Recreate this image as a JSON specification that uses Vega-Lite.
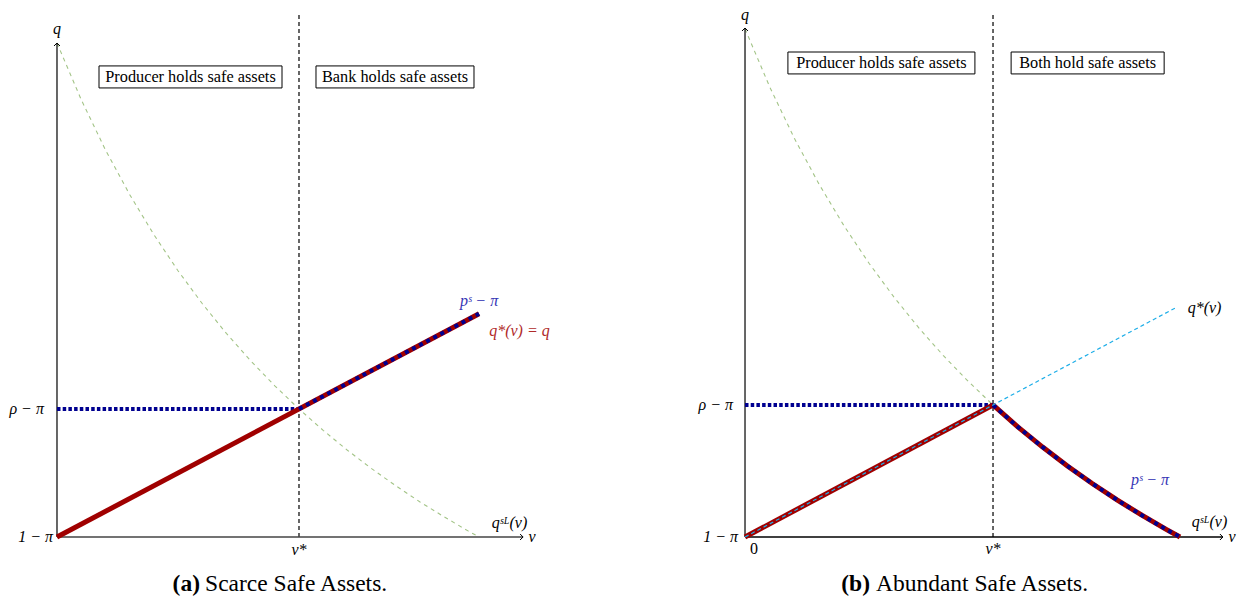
{
  "$schema": "https://vega.github.io/schema/vega-lite/v6.json",
  "background": "white",
  "padding": 0,
  "spacing": 0,
  "config": {"view": {"stroke": null}},
  "datasets": {
    "a_curve": [
      {"x": 0, "y": 3.859}, {"x": 0.1, "y": 3.417}, {"x": 0.2, "y": 3.025}, {"x": 0.3, "y": 2.676},
      {"x": 0.4, "y": 2.363}, {"x": 0.5, "y": 2.08}, {"x": 0.6, "y": 1.824}, {"x": 0.7, "y": 1.59},
      {"x": 0.8, "y": 1.377}, {"x": 0.9, "y": 1.181}, {"x": 1.0, "y": 1.0}, {"x": 1.1, "y": 0.833},
      {"x": 1.2, "y": 0.678}, {"x": 1.3, "y": 0.534}, {"x": 1.4, "y": 0.4}, {"x": 1.5, "y": 0.274},
      {"x": 1.6, "y": 0.157}, {"x": 1.7, "y": 0.046}, {"x": 1.744, "y": 0}
    ],
    "b_curve": [
      {"x": 0, "y": 3.85}, {"x": 0.1, "y": 3.408}, {"x": 0.2, "y": 3.016}, {"x": 0.3, "y": 2.668},
      {"x": 0.4, "y": 2.355}, {"x": 0.5, "y": 2.074}, {"x": 0.6, "y": 1.819}, {"x": 0.7, "y": 1.586},
      {"x": 0.8, "y": 1.374}, {"x": 0.9, "y": 1.179}, {"x": 1.0, "y": 1.0}, {"x": 1.1, "y": 0.834},
      {"x": 1.2, "y": 0.681}, {"x": 1.3, "y": 0.538}, {"x": 1.4, "y": 0.405}, {"x": 1.5, "y": 0.281},
      {"x": 1.6, "y": 0.165}, {"x": 1.7, "y": 0.056}, {"x": 1.754, "y": 0}
    ]
  },
  "hconcat": [
    {
      "width": 622,
      "height": 601,
      "encoding": {
        "x": {"field": "x", "type": "quantitative", "scale": {"domain": [-0.2355, 2.3347], "nice": false, "zero": false}, "axis": null},
        "y": {"field": "y", "type": "quantitative", "scale": {"domain": [-0.5, 4.195], "nice": false, "zero": false}, "axis": null}
      },
      "layer": [
        {"data": {"name": "a_curve"}, "mark": {"type": "line", "color": "#a3c487", "strokeWidth": 1.1, "strokeDash": [4, 4]}, "encoding": {"order": {"field": "x", "type": "quantitative"}}},
        {"data": {"values": [{"x": 1, "y": 0, "x2": 1, "y2": 4.086}]}, "mark": {"type": "rule", "color": "black", "strokeWidth": 1.2, "strokeDash": [4, 3]}, "encoding": {"x2": {"field": "x2"}, "y2": {"field": "y2"}}},
        {"data": {"values": [{"x": 0, "y": 0, "x2": 0, "y2": 3.859}]}, "mark": {"type": "rule", "color": "black", "strokeWidth": 1.2}, "encoding": {"x2": {"field": "x2"}, "y2": {"field": "y2"}}},
        {"data": {"values": [{"x": 0, "y": 0, "x2": 1.926, "y2": 0}]}, "mark": {"type": "rule", "color": "#444", "strokeWidth": 1.6}, "encoding": {"x2": {"field": "x2"}, "y2": {"field": "y2"}}},
        {"data": {"values": [{"x": 0, "y": 1, "x2": 1, "y2": 1}]}, "mark": {"type": "rule", "color": "#000090", "strokeWidth": 4, "strokeDash": [3.5, 2.2]}, "encoding": {"x2": {"field": "x2"}, "y2": {"field": "y2"}}},
        {"data": {"values": [{"x": 0, "y": 0, "x2": 1.744, "y2": 1.744}]}, "mark": {"type": "rule", "color": "#a00000", "strokeWidth": 5}, "encoding": {"x2": {"field": "x2"}, "y2": {"field": "y2"}}},
        {"data": {"values": [{"x": 1, "y": 1, "x2": 1.744, "y2": 1.744}]}, "mark": {"type": "rule", "color": "#000090", "strokeWidth": 4, "strokeDash": [4, 4]}, "encoding": {"x2": {"field": "x2"}, "y2": {"field": "y2"}}},
        {"data": {"values": [{"x": 0, "y": 3.859}]}, "mark": {"type": "point", "shape": "M-1,1L0,0L1,1", "filled": false, "stroke": "black", "strokeWidth": 1, "size": 36, "opacity": 1}},
        {"data": {"values": [{"x": 1.926, "y": 0}]}, "mark": {"type": "point", "shape": "M-1,-1L0,0L-1,1", "filled": false, "stroke": "black", "strokeWidth": 1, "size": 36, "opacity": 1}},
        {"data": {"values": [{"x": 0.1736, "x2": 0.9298, "y": 3.68, "y2": 3.508}, {"x": 1.0702, "x2": 1.7231, "y": 3.68, "y2": 3.508}]}, "mark": {"type": "rect", "fill": "white", "stroke": "black", "strokeWidth": 1}, "encoding": {"x2": {"field": "x2"}, "y2": {"field": "y2"}}},
        {"data": {"values": [{"x": 0.5517, "y": 3.594, "label": "Producer holds safe assets"}, {"x": 1.3967, "y": 3.594, "label": "Bank holds safe assets"}]}, "mark": {"type": "text", "font": "Liberation Serif", "fontSize": 16.3, "color": "black"}, "encoding": {"text": {"field": "label"}}},
        {"data": {"values": [{"x": 0, "y": 3.969, "label": "q"}, {"x": 1.963, "y": 0, "label": "ν"}, {"x": 1, "y": -0.1, "label": "ν*"}, {"x": 1.87, "y": 0.109, "label": "qˢᴸ(ν)"}]}, "mark": {"type": "text", "font": "Liberation Serif", "fontStyle": "italic", "fontSize": 16, "color": "black"}, "encoding": {"text": {"field": "label"}}},
        {"data": {"values": [{"x": -0.054, "y": 1, "label": "ρ − π"}, {"x": -0.0165, "y": 0, "label": "1 − π"}]}, "mark": {"type": "text", "align": "right", "font": "Liberation Serif", "fontStyle": "italic", "fontSize": 16, "color": "black"}, "encoding": {"text": {"field": "label"}}},
        {"data": {"values": [{"x": 1.744, "y": 1.844, "label": "pˢ − π"}]}, "mark": {"type": "text", "font": "Liberation Serif", "fontStyle": "italic", "fontSize": 16, "color": "#3535b5"}, "encoding": {"text": {"field": "label"}}},
        {"data": {"values": [{"x": 1.911, "y": 1.609, "label": "q*(ν) = q"}]}, "mark": {"type": "text", "font": "Liberation Serif", "fontStyle": "italic", "fontSize": 16, "color": "#b02a2a"}, "encoding": {"text": {"field": "label"}}},
        {"data": {"values": [{"x": 0.591, "y": -0.367, "label": "(a)"}]}, "mark": {"type": "text", "align": "right", "font": "Liberation Serif", "fontWeight": "bold", "fontSize": 23.5, "color": "black"}, "encoding": {"text": {"field": "label"}}},
        {"data": {"values": [{"x": 0.612, "y": -0.367, "label": "Scarce Safe Assets."}]}, "mark": {"type": "text", "align": "left", "font": "Liberation Serif", "fontSize": 23.5, "color": "black"}, "encoding": {"text": {"field": "label"}}}
      ]
    },
    {
      "width": 622,
      "height": 601,
      "encoding": {
        "x": {"field": "x", "type": "quantitative", "scale": {"domain": [-0.496, 2.012], "nice": false, "zero": false}, "axis": null},
        "y": {"field": "y", "type": "quantitative", "scale": {"domain": [-0.4848, 4.068], "nice": false, "zero": false}, "axis": null}
      },
      "layer": [
        {"data": {"name": "b_curve"}, "mark": {"type": "line", "color": "#a3c487", "strokeWidth": 1.1, "strokeDash": [4, 4]}, "encoding": {"order": {"field": "x", "type": "quantitative"}}},
        {"data": {"values": [{"x": 1, "y": 0, "x2": 1, "y2": 3.962}]}, "mark": {"type": "rule", "color": "black", "strokeWidth": 1.2, "strokeDash": [4, 3]}, "encoding": {"x2": {"field": "x2"}, "y2": {"field": "y2"}}},
        {"data": {"values": [{"x": 0, "y": 0, "x2": 0, "y2": 3.856}]}, "mark": {"type": "rule", "color": "black", "strokeWidth": 1.2}, "encoding": {"x2": {"field": "x2"}, "y2": {"field": "y2"}}},
        {"data": {"values": [{"x": 0, "y": 0, "x2": 1.927, "y2": 0}]}, "mark": {"type": "rule", "color": "black", "strokeWidth": 1.3}, "encoding": {"x2": {"field": "x2"}, "y2": {"field": "y2"}}},
        {"data": {"values": [{"x": 0, "y": 1, "x2": 1, "y2": 1}]}, "mark": {"type": "rule", "color": "#000090", "strokeWidth": 4, "strokeDash": [3.5, 2.2]}, "encoding": {"x2": {"field": "x2"}, "y2": {"field": "y2"}}},
        {"data": {"values": [{"x": 0, "y": 0, "x2": 1, "y2": 1}]}, "mark": {"type": "rule", "color": "#a00000", "strokeWidth": 5}, "encoding": {"x2": {"field": "x2"}, "y2": {"field": "y2"}}},
        {"data": {"name": "b_curve"}, "transform": [{"filter": "datum.x >= 1"}], "mark": {"type": "line", "color": "#a00000", "strokeWidth": 5}, "encoding": {"order": {"field": "x", "type": "quantitative"}}},
        {"data": {"name": "b_curve"}, "transform": [{"filter": "datum.x >= 1"}], "mark": {"type": "line", "color": "#000090", "strokeWidth": 4, "strokeDash": [4, 4]}, "encoding": {"order": {"field": "x", "type": "quantitative"}}},
        {"data": {"values": [{"x": 0, "y": 0, "x2": 1.742, "y2": 1.742}]}, "mark": {"type": "rule", "color": "#1eaee8", "strokeWidth": 1.2, "strokeDash": [4, 3]}, "encoding": {"x2": {"field": "x2"}, "y2": {"field": "y2"}}},
        {"data": {"values": [{"x": 0, "y": 3.856}]}, "mark": {"type": "point", "shape": "M-1,1L0,0L1,1", "filled": false, "stroke": "black", "strokeWidth": 1, "size": 36, "opacity": 1}},
        {"data": {"values": [{"x": 1.927, "y": 0}]}, "mark": {"type": "point", "shape": "M-1,-1L0,0L-1,1", "filled": false, "stroke": "black", "strokeWidth": 1, "size": 36, "opacity": 1}},
        {"data": {"values": [{"x": 0.173, "x2": 0.927, "y": 3.674, "y2": 3.508}, {"x": 1.073, "x2": 1.69, "y": 3.674, "y2": 3.508}]}, "mark": {"type": "rect", "fill": "white", "stroke": "black", "strokeWidth": 1}, "encoding": {"x2": {"field": "x2"}, "y2": {"field": "y2"}}},
        {"data": {"values": [{"x": 0.55, "y": 3.591, "label": "Producer holds safe assets"}, {"x": 1.3815, "y": 3.591, "label": "Both hold safe assets"}]}, "mark": {"type": "text", "font": "Liberation Serif", "fontSize": 16.3, "color": "black"}, "encoding": {"text": {"field": "label"}}},
        {"data": {"values": [{"x": 0, "y": 3.955, "label": "q"}, {"x": 1.964, "y": 0, "label": "ν"}, {"x": 1, "y": -0.09, "label": "ν*"}, {"x": 1.873, "y": 0.114, "label": "qˢᴸ(ν)"}, {"x": 1.853, "y": 1.735, "label": "q*(ν)"}]}, "mark": {"type": "text", "font": "Liberation Serif", "fontStyle": "italic", "fontSize": 16, "color": "black"}, "encoding": {"text": {"field": "label"}}},
        {"data": {"values": [{"x": 0.036, "y": -0.09, "label": "0"}]}, "mark": {"type": "text", "font": "Liberation Serif", "fontSize": 16, "color": "black"}, "encoding": {"text": {"field": "label"}}},
        {"data": {"values": [{"x": -0.048, "y": 1, "label": "ρ − π"}, {"x": -0.028, "y": 0, "label": "1 − π"}]}, "mark": {"type": "text", "align": "right", "font": "Liberation Serif", "fontStyle": "italic", "fontSize": 16, "color": "black"}, "encoding": {"text": {"field": "label"}}},
        {"data": {"values": [{"x": 1.633, "y": 0.432, "label": "pˢ − π"}]}, "mark": {"type": "text", "font": "Liberation Serif", "fontStyle": "italic", "fontSize": 16, "color": "#3535b5"}, "encoding": {"text": {"field": "label"}}},
        {"data": {"values": [{"x": 0.504, "y": -0.356, "label": "(b)"}]}, "mark": {"type": "text", "align": "right", "font": "Liberation Serif", "fontWeight": "bold", "fontSize": 23.5, "color": "black"}, "encoding": {"text": {"field": "label"}}},
        {"data": {"values": [{"x": 0.528, "y": -0.356, "label": "Abundant Safe Assets."}]}, "mark": {"type": "text", "align": "left", "font": "Liberation Serif", "fontSize": 23.5, "color": "black"}, "encoding": {"text": {"field": "label"}}}
      ]
    }
  ]
}
